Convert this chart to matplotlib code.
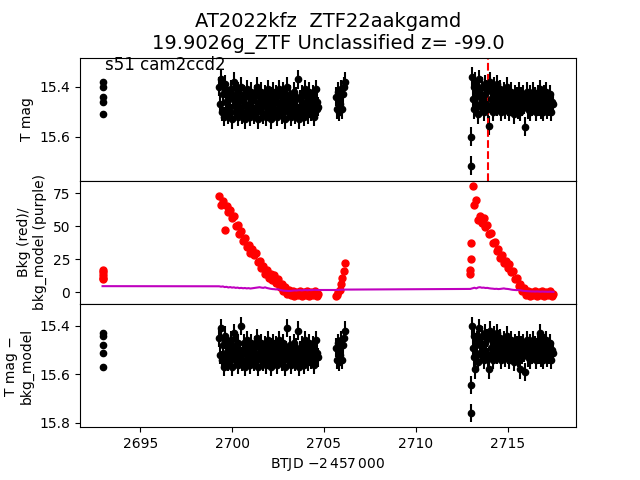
import matplotlib
matplotlib.use("Agg")
import matplotlib.pyplot as plt

# ---------------- photometry (BTJD - 2457000) ----------------
# first short segment
tp_a = [2692.95, 2692.96, 2692.97, 2692.98, 2692.99]
mag_a = [15.38, 15.40, 15.44, 15.46, 15.51]
diff_a = [15.43, 15.44, 15.48, 15.51, 15.57]

# segment 2699.3 - 2704.7
tp_b = [2699.30, 2699.35, 2699.40, 2699.45, 2699.50, 2699.55, 2699.60, 2699.65, 2699.70, 2699.75,
        2699.80, 2699.85, 2699.90, 2699.95, 2700.00, 2700.05, 2700.10, 2700.15, 2700.20, 2700.25,
        2700.30, 2700.35, 2700.40, 2700.45, 2700.50, 2700.55, 2700.60, 2700.65, 2700.70, 2700.75,
        2700.80, 2700.85, 2700.90, 2700.95, 2701.00, 2701.05, 2701.10, 2701.15, 2701.20, 2701.25,
        2701.30, 2701.35, 2701.40, 2701.45, 2701.50, 2701.55, 2701.60, 2701.65, 2701.70, 2701.75,
        2701.80, 2701.85, 2701.90, 2701.95, 2702.00, 2702.05, 2702.10, 2702.15, 2702.20, 2702.25,
        2702.30, 2702.35, 2702.40, 2702.45, 2702.50, 2702.55, 2702.60, 2702.65, 2702.70, 2702.75,
        2702.80, 2702.85, 2702.90, 2702.95, 2703.00, 2703.05, 2703.10, 2703.15, 2703.20, 2703.25,
        2703.30, 2703.35, 2703.40, 2703.45, 2703.50, 2703.55, 2703.60, 2703.65, 2703.70, 2703.75,
        2703.80, 2703.85, 2703.90, 2703.95, 2704.00, 2704.05, 2704.10, 2704.15, 2704.20, 2704.25,
        2704.30, 2704.35, 2704.40, 2704.45, 2704.50, 2704.55, 2704.60, 2704.65, 2704.70]
mag_b = [15.40, 15.47, 15.37, 15.50, 15.43, 15.52, 15.39, 15.46, 15.49, 15.42,
         15.51, 15.44, 15.48, 15.41, 15.53, 15.45, 15.38, 15.50, 15.43, 15.47,
         15.52, 15.42, 15.49, 15.45, 15.40, 15.51, 15.46, 15.43, 15.53, 15.48,
         15.41, 15.50, 15.44, 15.47, 15.52, 15.42, 15.49, 15.45, 15.51, 15.43,
         15.48, 15.40, 15.53, 15.46, 15.44, 15.50, 15.42, 15.48, 15.51, 15.45,
         15.43, 15.52, 15.47, 15.41, 15.49, 15.45, 15.53, 15.44, 15.48, 15.42,
         15.50, 15.46, 15.43, 15.52, 15.47, 15.41, 15.49, 15.44, 15.51, 15.46,
         15.42, 15.48, 15.53, 15.45, 15.40, 15.50, 15.47, 15.43, 15.52, 15.46,
         15.49, 15.42, 15.47, 15.51, 15.44, 15.48, 15.37, 15.53, 15.45, 15.50,
         15.43, 15.47, 15.52, 15.41, 15.49, 15.46, 15.44, 15.51, 15.42, 15.48,
         15.50, 15.45, 15.43, 15.52, 15.47, 15.41, 15.49, 15.46, 15.48]
diff_b = [15.45, 15.52, 15.41, 15.54, 15.48, 15.57, 15.44, 15.51, 15.53, 15.47,
          15.55, 15.49, 15.52, 15.46, 15.57, 15.50, 15.43, 15.54, 15.48, 15.51,
          15.56, 15.47, 15.53, 15.50, 15.40, 15.55, 15.51, 15.47, 15.57, 15.52,
          15.46, 15.54, 15.49, 15.51, 15.56, 15.47, 15.53, 15.50, 15.55, 15.48,
          15.52, 15.45, 15.57, 15.51, 15.49, 15.54, 15.47, 15.52, 15.55, 15.50,
          15.48, 15.56, 15.51, 15.46, 15.53, 15.50, 15.57, 15.49, 15.52, 15.47,
          15.54, 15.51, 15.48, 15.56, 15.52, 15.46, 15.53, 15.49, 15.55, 15.51,
          15.47, 15.52, 15.57, 15.50, 15.41, 15.54, 15.52, 15.48, 15.56, 15.51,
          15.53, 15.47, 15.51, 15.55, 15.49, 15.52, 15.42, 15.57, 15.50, 15.54,
          15.48, 15.51, 15.56, 15.46, 15.53, 15.51, 15.49, 15.55, 15.47, 15.52,
          15.54, 15.50, 15.48, 15.56, 15.52, 15.46, 15.53, 15.51, 15.53]

# short segment near 2706
tp_c = [2705.65, 2705.70, 2705.75, 2705.80, 2705.85, 2705.90, 2705.95, 2706.00, 2706.05, 2706.10, 2706.15]
mag_c = [15.44, 15.49, 15.42, 15.50, 15.45, 15.47, 15.41, 15.49, 15.43, 15.40, 15.38]
diff_c = [15.49, 15.54, 15.47, 15.55, 15.50, 15.52, 15.46, 15.54, 15.48, 15.45, 15.42]

# two faint points at the start of the last segment
tp_out = [2712.99, 2713.01]
mag_out = [15.60, 15.715]
diff_out = [15.645, 15.76]

# segment 2713.05 - 2717.45
tp_d = [2713.05, 2713.10, 2713.15, 2713.20, 2713.25, 2713.30, 2713.35, 2713.40, 2713.45, 2713.50,
        2713.55, 2713.60, 2713.65, 2713.70, 2713.75, 2713.80, 2713.85, 2713.90, 2713.95, 2714.00,
        2714.05, 2714.10, 2714.15, 2714.20, 2714.25, 2714.30, 2714.35, 2714.40, 2714.45, 2714.50,
        2714.55, 2714.60, 2714.65, 2714.70, 2714.75, 2714.80, 2714.85, 2714.90, 2714.95, 2715.00,
        2715.05, 2715.10, 2715.15, 2715.20, 2715.25, 2715.30, 2715.35, 2715.40, 2715.45, 2715.50,
        2715.55, 2715.60, 2715.65, 2715.70, 2715.75, 2715.80, 2715.85, 2715.90, 2715.95, 2716.00,
        2716.05, 2716.10, 2716.15, 2716.20, 2716.25, 2716.30, 2716.35, 2716.40, 2716.45, 2716.50,
        2716.55, 2716.60, 2716.65, 2716.70, 2716.75, 2716.80, 2716.85, 2716.90, 2716.95, 2717.00,
        2717.05, 2717.10, 2717.15, 2717.20, 2717.25, 2717.30, 2717.35, 2717.40, 2717.45]
mag_d = [15.36, 15.45, 15.40, 15.49, 15.38, 15.47, 15.42, 15.51, 15.37, 15.44,
         15.48, 15.40, 15.46, 15.50, 15.39, 15.43, 15.47, 15.41, 15.49, 15.555,
         15.38, 15.45, 15.42, 15.50, 15.40, 15.47, 15.44, 15.39, 15.48, 15.43,
         15.46, 15.41, 15.50, 15.44, 15.47, 15.42, 15.49, 15.45, 15.40, 15.48,
         15.43, 15.50, 15.46, 15.42, 15.48, 15.45, 15.51, 15.43, 15.47, 15.44,
         15.49, 15.42, 15.46, 15.50, 15.44, 15.48, 15.43, 15.47, 15.56, 15.45,
         15.42, 15.49, 15.46, 15.43, 15.50, 15.45, 15.48, 15.42, 15.47, 15.44,
         15.50, 15.45, 15.43, 15.48, 15.41, 15.49, 15.46, 15.44, 15.50, 15.43,
         15.47, 15.42, 15.49, 15.45, 15.48, 15.43, 15.50, 15.46, 15.47]
diff_d = [15.40, 15.49, 15.44, 15.53, 15.58, 15.51, 15.46, 15.55, 15.41, 15.48,
          15.52, 15.44, 15.50, 15.54, 15.43, 15.47, 15.51, 15.45, 15.53, 15.58,
          15.42, 15.49, 15.46, 15.54, 15.44, 15.51, 15.48, 15.43, 15.52, 15.47,
          15.50, 15.45, 15.54, 15.48, 15.51, 15.46, 15.53, 15.49, 15.44, 15.52,
          15.47, 15.54, 15.50, 15.46, 15.52, 15.49, 15.55, 15.47, 15.51, 15.48,
          15.53, 15.46, 15.50, 15.58, 15.48, 15.52, 15.47, 15.51, 15.59, 15.49,
          15.46, 15.53, 15.50, 15.47, 15.54, 15.49, 15.52, 15.46, 15.51, 15.48,
          15.54, 15.49, 15.47, 15.52, 15.43, 15.53, 15.50, 15.48, 15.54, 15.47,
          15.51, 15.46, 15.53, 15.49, 15.52, 15.47, 15.54, 15.50, 15.51]

# ---------------- background / background model ----------------
tb = [2692.95, 2692.96, 2692.97, 2692.98, 2692.99,
      2699.3, 2699.4, 2699.5, 2699.6, 2699.7, 2699.8, 2699.9, 2700.0, 2700.1, 2700.2,
      2700.3, 2700.4, 2700.5, 2700.6, 2700.7, 2700.8, 2700.9, 2701.0, 2701.1, 2701.2,
      2701.3, 2701.4, 2701.5, 2701.6, 2701.7, 2701.8, 2701.9, 2702.0, 2702.1, 2702.2,
      2702.3, 2702.4, 2702.5, 2702.6, 2702.7, 2702.8, 2702.9, 2703.0, 2703.1, 2703.2,
      2703.3, 2703.4, 2703.5, 2703.6, 2703.7, 2703.8, 2703.9, 2704.0, 2704.1, 2704.2,
      2704.3, 2704.4, 2704.5, 2704.6, 2704.7,
      2705.65, 2705.72, 2705.79, 2705.86, 2705.93, 2706.0, 2706.07, 2706.14,
      2712.96, 2712.98, 2713.00, 2713.02,
      2713.1, 2713.2, 2713.3, 2713.4, 2713.5, 2713.6, 2713.7, 2713.8, 2713.9, 2714.0,
      2714.1, 2714.2, 2714.3, 2714.4, 2714.5, 2714.6, 2714.7, 2714.8, 2714.9, 2715.0,
      2715.1, 2715.2, 2715.3, 2715.4, 2715.5, 2715.6, 2715.7, 2715.8, 2715.9, 2716.0,
      2716.1, 2716.2, 2716.3, 2716.4, 2716.5, 2716.6, 2716.7, 2716.8, 2716.9, 2717.0,
      2717.1, 2717.2, 2717.3, 2717.4, 2717.5]
bkg = [17, 15, 13, 11, 10,
       73, 66, 69, 47, 65, 61, 62, 56, 58, 50,
       51, 44, 46, 39, 41, 34, 36, 30, 33, 28,
       30, 23, 24, 18, 20, 14, 17, 11, 14, 9,
       13, 7, 10, 4, 6, 1, 4, -1, 2, -2,
       1, -3, 0, -2, 1, -3, 0, -2, 1, -3,
       0, -2, 1, -3, -1,
       -3, -2, 0, 2, 6, 11, 16, 22,
       17, 14, 25, 37,
       80, 66, 70, 55, 58, 52, 56, 49, 51, 44,
       45, 37, 38, 31, 33, 26, 28, 22, 24, 18,
       21, 15, 16, 10, 11, 5, 6, 1, 3, -2,
       1, -3, 0, -2, 1, -3, 0, -2, 1, -3,
       0, -2, 1, -3, -1]
bkg_model = [4.6, 4.6, 4.6, 4.6, 4.6,
             4.5, 4.2, 4.4, 3.9, 4.1, 3.6, 3.9, 3.5, 3.7, 3.3,
             3.5, 3.1, 3.3, 3.0, 3.2, 2.9, 3.1, 2.8, 3.0, 3.2,
             3.4, 3.6, 3.8, 3.5, 3.3, 3.7, 3.2, 2.9, 2.6, 2.4,
             2.3, 2.1, 2.3, 1.8, 1.5, 1.2, 1.1, 1.0, 0.9, 1.0,
             1.2, 1.4, 1.3, 1.5, 1.6, 1.4, 1.6, 1.7, 1.5, 1.7,
             1.6, 1.7, 1.8, 1.7, 1.7,
             1.7, 1.8, 1.7, 1.9, 1.8, 2.0, 1.9, 2.0,
             2.5, 2.5, 2.6, 2.7,
             3.0, 3.4, 2.9, 3.6, 3.8, 3.4, 3.5, 3.2, 3.3, 3.0,
             2.8, 2.7, 2.5, 2.6, 2.4, 2.5, 2.7, 2.9, 2.6, 2.5,
             2.3, 2.0, 1.8, 1.7, 1.6, 1.7, 1.5, 1.2, 1.0, 0.9,
             0.8, 0.7, 0.6, 0.6, 0.5, 0.6, 0.5, 0.4, 0.5, 0.4,
             0.4, 0.3, 0.4, 0.3, 0.3]

err_a = 0.012
err_main = 0.038
t_peak = 2713.92

fig, (ax1, ax2, ax3) = plt.subplots(3, 1, sharex=True, figsize=(6.4, 4.8), dpi=100)
fig.subplots_adjust(hspace=0)

eb = dict(fmt='o', color='k', ms=4.5, elinewidth=1.5)

# T mag
ax1.errorbar(tp_a, mag_a, yerr=err_a, **eb)
for t, m in [(tp_b, mag_b), (tp_c, mag_c), (tp_out, mag_out), (tp_d, mag_d)]:
    ax1.errorbar(t, m, yerr=err_main, **eb)
ax1.axvline(t_peak, color='r', ls='--', lw=1.5)
ax1.set_ylim(15.775, 15.283)
ax1.set_ylabel('T mag')
ax1.text(0.05, 0.9, 's51 cam2ccd2', transform=ax1.transAxes, fontsize=12)
ax1.set_title('AT2022kfz  ZTF22aakgamd\n19.9026g_ZTF Unclassified z= -99.0', fontsize=14)

# background
ax2.plot(tb, bkg, 'o', color='r', ms=5)
ax2.plot(tb, bkg_model, '-', color='m', lw=1.5)
ax2.set_ylim(-8.9, 84.3)
ax2.set_ylabel('Bkg (red)/\nbkg_model (purple)')

# T mag - bkg_model
ax3.errorbar(tp_a, diff_a, yerr=err_a, **eb)
for t, m in [(tp_b, diff_b), (tp_c, diff_c), (tp_out, diff_out), (tp_d, diff_d)]:
    ax3.errorbar(t, m, yerr=err_main, **eb)
ax3.set_ylim(15.818, 15.31)
ax3.set_yticks([15.4, 15.6, 15.8])
ax3.set_ylabel('T mag −\nbkg_model')
ax3.set_xlabel('BTJD $-2\\,457\\,000$')

plt.savefig('out.png')
